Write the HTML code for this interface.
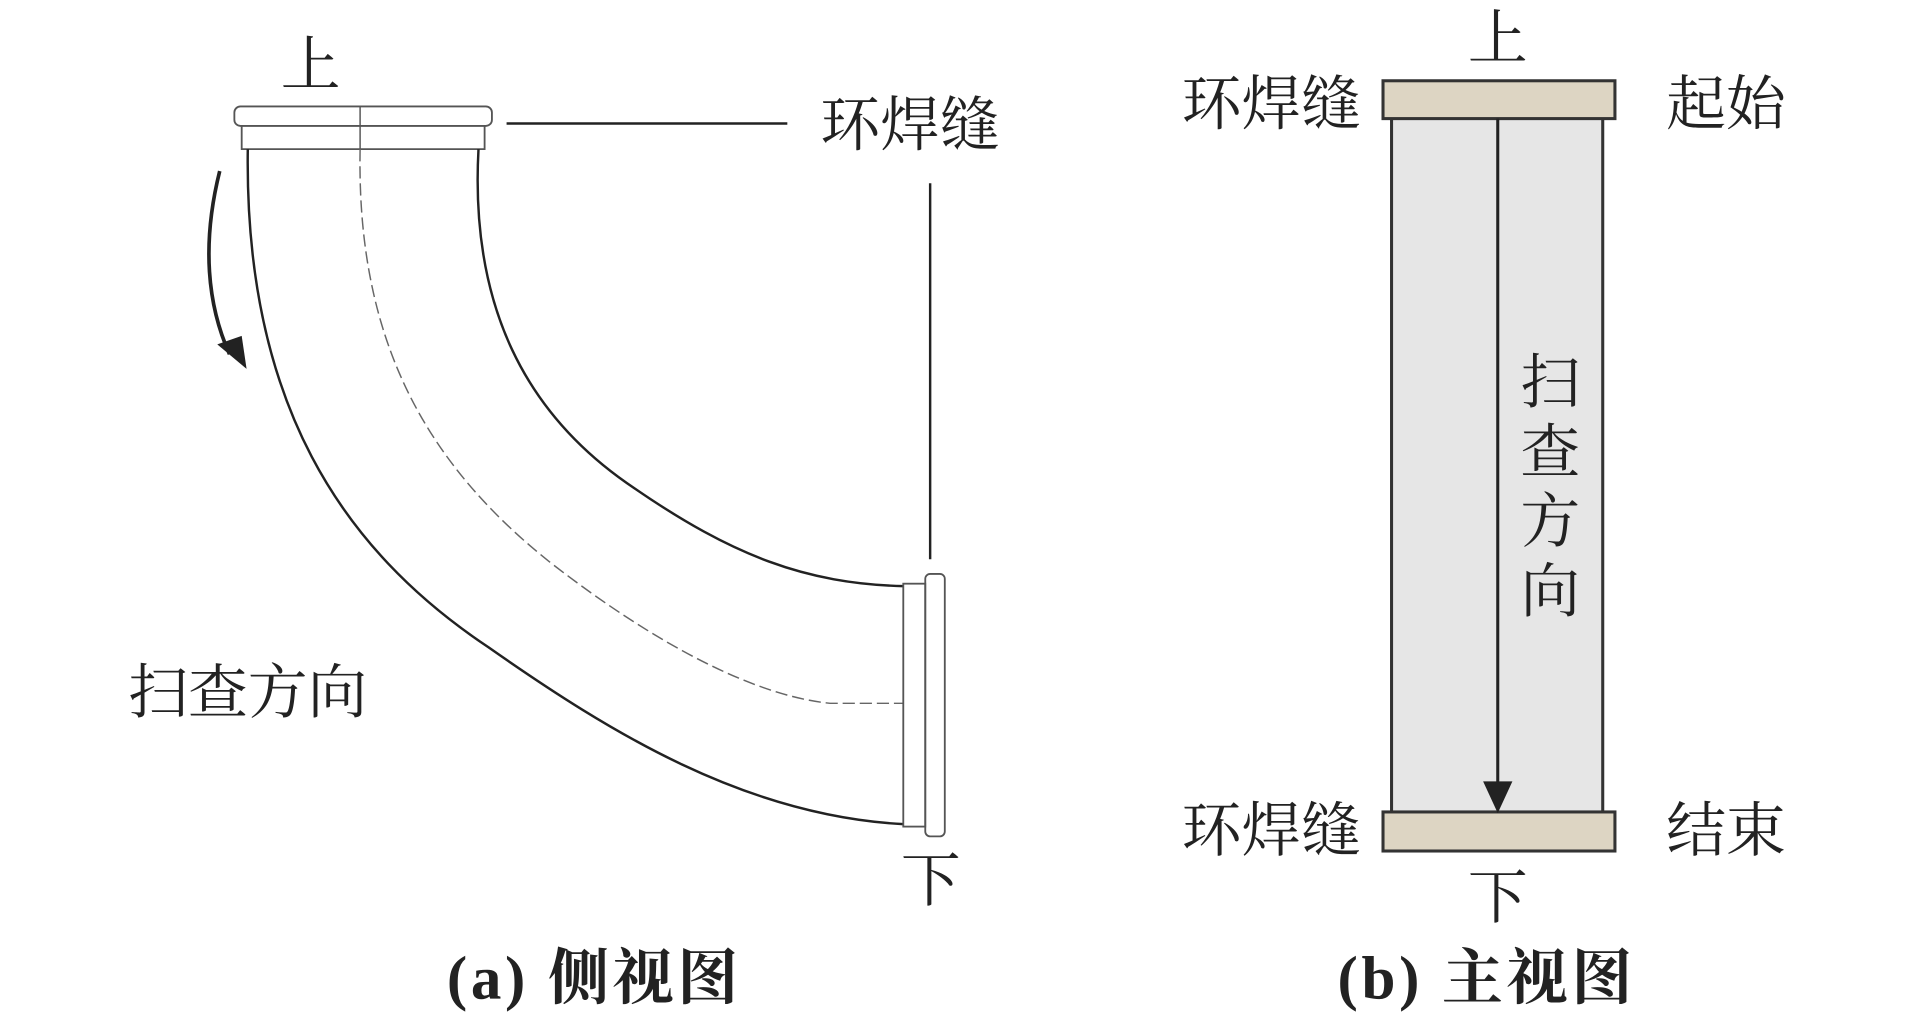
<!DOCTYPE html>
<html><head><meta charset="utf-8"><style>
html,body{margin:0;padding:0;background:#fff;}
svg{display:block;}
text{font-family:"Liberation Serif","Noto Serif CJK SC",serif;fill:#222;}
</style></head><body>
<svg width="1914" height="1016" viewBox="0 0 1568 832" xmlns="http://www.w3.org/2000/svg">
<g fill="none" stroke="#222" stroke-width="2">
<rect x="192" y="87" width="211" height="16" rx="5" stroke-width="1.5" stroke="#555"/>
<path d="M198 103 L198 122 L397 122 L397 103" stroke-width="1.5" stroke="#555"/>
<line x1="295" y1="87" x2="295" y2="122" stroke="#555" stroke-width="1.2"/>
<path d="M203 122 C200 330 280 450 400 530 C500 600 610 668 740 675"/>
<path d="M392 122 C385 250 430 340 520 400 C600 455 660 478 740 480"/>
<path d="M295 122 C292 280 350 380 450 460 C540 530 620 570 680 576 L740 576" stroke="#666" stroke-width="1.2" stroke-dasharray="10,4"/>
<rect x="740" y="478" width="18" height="199" stroke-width="1.5" stroke="#555"/>
<rect x="758" y="470" width="16" height="215" rx="4" stroke-width="1.5" stroke="#555"/>
<line x1="415" y1="101" x2="645" y2="101"/>
<line x1="762" y1="150" x2="762" y2="458"/>
<path d="M180 140 C165 200 170 250 188 290" stroke-width="3"/>
</g>
<polygon points="178,282 202,302 198,275" fill="#222"/>
<text x="230" y="70" font-size="49">上</text>
<text x="672" y="119" font-size="49">环焊缝</text>
<text x="738" y="738" font-size="49">下</text>
<text x="105" y="584" font-size="49">扫查方向</text>
<text x="487" y="818" font-size="50" font-weight="bold" text-anchor="middle" letter-spacing="3">(a) 侧视图</text>

<rect x="1140" y="95" width="173" height="572" fill="#e6e6e6" stroke="#333" stroke-width="2.5"/>
<rect x="1133" y="66" width="190" height="31" fill="#ddd5c3" stroke="#333" stroke-width="2.5"/>
<rect x="1133" y="665" width="190" height="32" fill="#ddd5c3" stroke="#333" stroke-width="2.5"/>
<line x1="1227" y1="97" x2="1227" y2="645" stroke="#222" stroke-width="2.5"/>
<polygon points="1215,640 1239,640 1227,666" fill="#222"/>
<text x="1227" y="48" font-size="49" text-anchor="middle">上</text>
<text x="968" y="102" font-size="49">环焊缝</text>
<text x="1365" y="102" font-size="49">起始</text>
<text x="968" y="697" font-size="49">环焊缝</text>
<text x="1365" y="697" font-size="49">结束</text>
<text x="1227" y="752" font-size="49" text-anchor="middle">下</text>
<text x="1270" y="330" font-size="49" text-anchor="middle">扫</text>
<text x="1270" y="387" font-size="49" text-anchor="middle">查</text>
<text x="1270" y="444" font-size="49" text-anchor="middle">方</text>
<text x="1270" y="501" font-size="49" text-anchor="middle">向</text>
<text x="1218" y="818" font-size="50" font-weight="bold" text-anchor="middle" letter-spacing="3">(b) 主视图</text>
</svg>
</body></html>
